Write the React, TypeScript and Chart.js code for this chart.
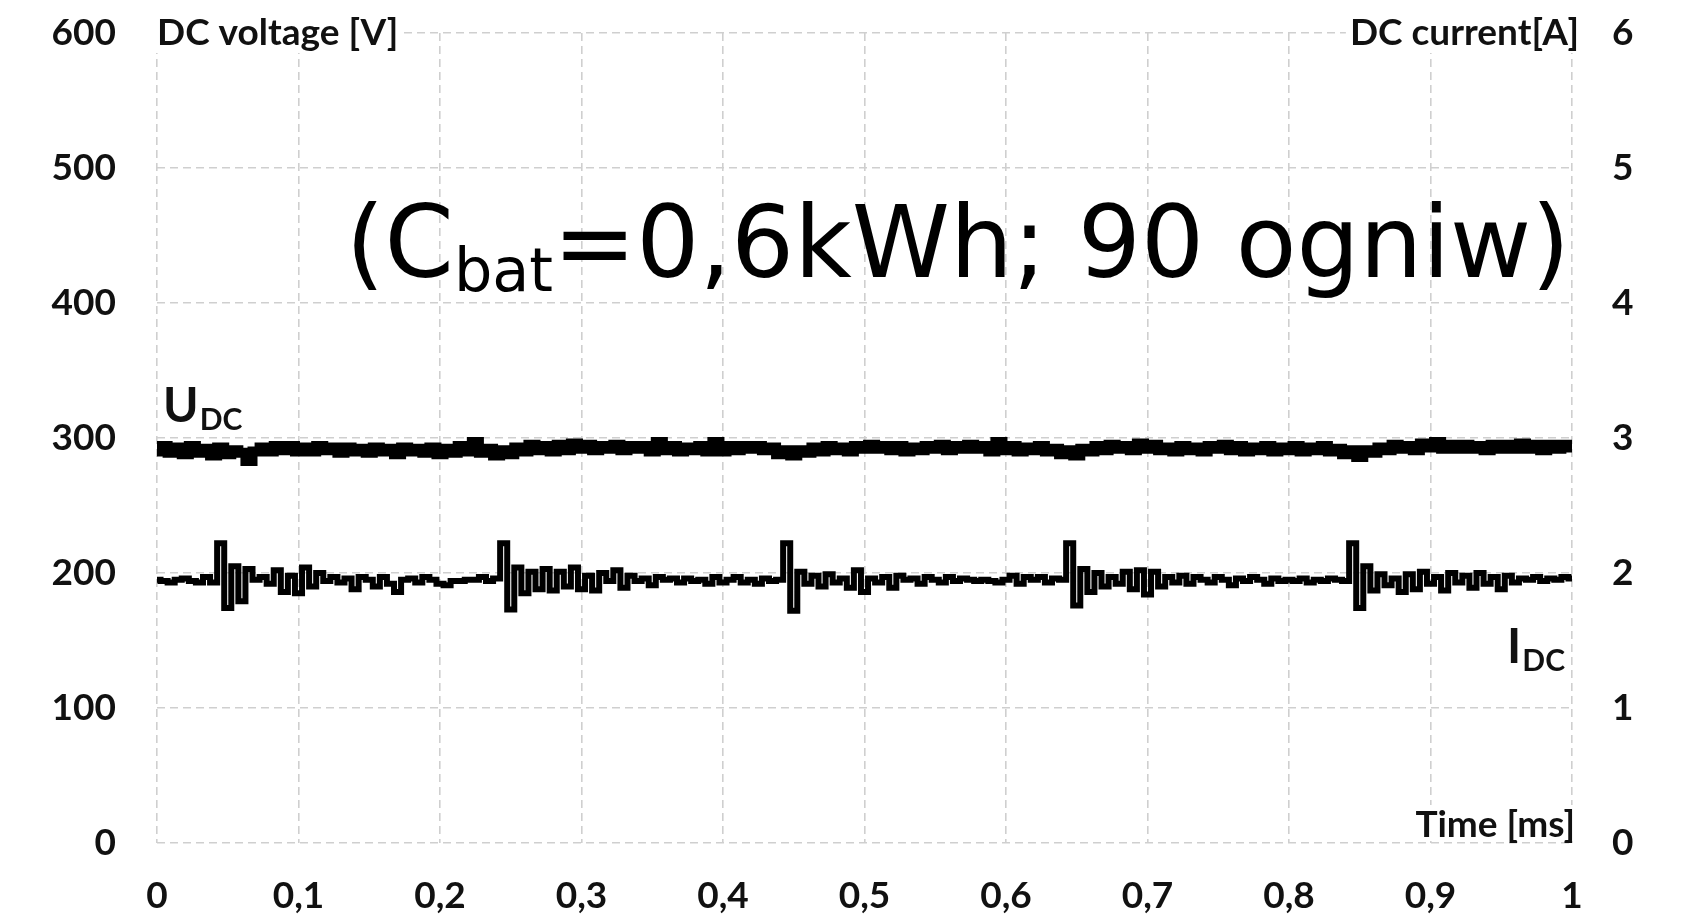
import React, { useEffect, useRef } from "react";
import { Chart, registerables } from "chart.js";

Chart.register(...registerables);

// ---------------- data ----------------
const SAMPLE_STEP_MS = 0.005; // oscilloscope sampling grid used for reading the traces

const voltageDC: number[] = [
  290, 294, 289, 293, 288, 294, 289, 292, 287, 293, 288, 291, 289, 283, 290, 293, 290, 294, 291, 294,
  290, 293, 290, 294, 291, 293, 289, 293, 290, 292, 289, 293, 290, 292, 288, 293, 290, 292, 289, 293,
  288, 292, 289, 294, 290, 297, 289, 292, 287, 291, 288, 293, 290, 295, 291, 294, 290, 295, 291, 296,
  292, 295, 291, 294, 292, 295, 291, 294, 292, 294, 290, 297, 291, 294, 290, 293, 291, 294, 290, 297,
  290, 294, 291, 294, 292, 294, 291, 293, 288, 291, 287, 291, 289, 293, 290, 294, 291, 293, 290, 294,
  292, 295, 292, 294, 291, 294, 290, 293, 291, 294, 292, 295, 291, 294, 292, 295, 292, 294, 290, 297,
  291, 294, 290, 293, 291, 294, 290, 292, 288, 291, 287, 292, 290, 294, 291, 295, 292, 294, 291, 296,
  292, 295, 291, 293, 290, 294, 291, 293, 290, 294, 292, 295, 291, 294, 290, 293, 291, 294, 290, 293,
  291, 294, 290, 293, 291, 294, 290, 292, 288, 291, 286, 291, 289, 293, 291, 295, 292, 294, 291, 296,
  293, 297, 292, 295, 292, 295, 292, 294, 291, 295, 292, 295, 292, 296, 292, 295, 291, 295, 292, 295,
  293,
];

const currentDC: number[] = [
  1.95, 1.94, 1.93, 1.95, 1.96, 1.94, 1.93, 1.97, 1.93, 2.22, 1.74, 2.05, 1.79, 2.03, 1.95, 1.97, 1.92, 2.02, 1.86, 1.98,
  1.85, 2.04, 1.90, 2.00, 1.94, 1.97, 1.93, 1.96, 1.88, 1.97, 1.95, 1.90, 1.97, 1.92, 1.86, 1.95, 1.96, 1.93, 1.97, 1.95,
  1.92, 1.91, 1.94, 1.94, 1.95, 1.95, 1.97, 1.94, 1.96, 2.22, 1.73, 2.04, 1.85, 2.01, 1.88, 2.03, 1.87, 2.01, 1.90, 2.04,
  1.88, 1.98, 1.87, 2.00, 1.94, 2.02, 1.89, 1.98, 1.94, 1.96, 1.91, 1.97, 1.95, 1.96, 1.93, 1.96, 1.94, 1.95, 1.92, 1.97,
  1.93, 1.95, 1.97, 1.93, 1.95, 1.92, 1.96, 1.94, 1.95, 2.22, 1.72, 2.01, 1.92, 1.98, 1.90, 1.99, 1.93, 1.96, 1.89, 2.02,
  1.86, 1.96, 1.93, 1.97, 1.89, 1.98, 1.95, 1.96, 1.92, 1.97, 1.95, 1.93, 1.97, 1.94, 1.96, 1.95, 1.94, 1.95, 1.94, 1.93,
  1.95, 1.98, 1.92, 1.97, 1.95, 1.97, 1.93, 1.96, 1.95, 2.22, 1.76, 2.03, 1.86, 2.00, 1.90, 1.97, 1.92, 2.01, 1.88, 2.02,
  1.84, 2.01, 1.90, 1.97, 1.93, 1.98, 1.92, 1.97, 1.95, 1.93, 1.97, 1.95, 1.91, 1.96, 1.94, 1.97, 1.95, 1.92, 1.96, 1.94,
  1.95, 1.94, 1.96, 1.93, 1.95, 1.94, 1.96, 1.95, 1.94, 2.22, 1.74, 2.05, 1.87, 1.99, 1.91, 1.96, 1.86, 1.99, 1.88, 2.01,
  1.92, 1.97, 1.87, 2.00, 1.93, 1.98, 1.89, 2.00, 1.92, 1.97, 1.88, 1.98, 1.93, 1.96, 1.95, 1.97, 1.94, 1.96, 1.95, 1.97,
  1.96,
];

const xTickLabels = ["0", "0,1", "0,2", "0,3", "0,4", "0,5", "0,6", "0,7", "0,8", "0,9", "1"];
const yLeftTickLabels = ["0", "100", "200", "300", "400", "500", "600"];
const yRightTickLabels = ["0", "1", "2", "3", "4", "5", "6"];

const leftAxisTitle = "DC voltage [V]";
const rightAxisTitle = "DC current[A]";
const xAxisTitle = "Time [ms]";

// ---------------- styles ----------------
const W = 1685;
const H = 919;
const FONT = "Lato, 'Open Sans', sans-serif";
const BIG_FONT = "'DejaVu Sans', Verdana, sans-serif";
const GRID = { color: "#cfcfcf", lineWidth: 1.6, dash: [8, 5] };

const annotationsPlugin = {
  id: "annotations",
  afterDraw(chart: any) {
    const ctx: CanvasRenderingContext2D = chart.ctx;
    const a = chart.chartArea;
    const yL = chart.scales.y;
    const yR = chart.scales.y1;
    ctx.save();

    const boxed = (text: string, x: number, yMid: number, align: "left" | "right", bgBottom?: number) => {
      ctx.font = `bold 37px ${FONT}`;
      const w = ctx.measureText(text).width;
      const x0 = align === "left" ? x : x - w;
      ctx.fillStyle = "#ffffff";
      ctx.fillRect(x0 - 4, yMid - 20, w + 8, (bgBottom ?? yMid + 20) - (yMid - 20));
      ctx.fillStyle = "#111111";
      ctx.textAlign = "left";
      ctx.textBaseline = "middle";
      ctx.fillText(text, x0, yMid);
    };

    boxed(leftAxisTitle, a.left, a.top, "left");
    boxed(rightAxisTitle, a.right + 7, a.top, "right");
    boxed(xAxisTitle, a.right + 3, a.bottom - 18, "right", a.bottom - 2);

    // subscripted labels
    const subLabel = (main: string, sub: string, x: number, base: number, align: "left" | "right") => {
      ctx.textBaseline = "alphabetic";
      ctx.textAlign = "left";
      ctx.font = `bold 48px ${FONT}`;
      const wm = ctx.measureText(main).width;
      ctx.font = `bold 30px ${FONT}`;
      const ws = ctx.measureText(sub).width;
      const x0 = align === "left" ? x : x - wm - ws - 1;
      ctx.fillStyle = "#111111";
      ctx.font = `bold 48px ${FONT}`;
      ctx.fillText(main, x0, base);
      ctx.font = `bold 30px ${FONT}`;
      ctx.fillText(sub, x0 + wm + 1, base + 8);
    };
    subLabel("U", "DC", a.left + 6, yL.getPixelForValue(312), "left");
    subLabel("I", "DC", a.right - 7, yR.getPixelForValue(1.33), "right");

    // big note: (C_bat=0,6kWh; 90 ogniw)
    const bigSize = 99.3;
    const subSize = 60.5;
    const part1 = "(C";
    const part2 = "bat";
    const part3 = "=0,6kWh; 90 ogniw)";
    ctx.font = `${bigSize}px ${BIG_FONT}`;
    const w1 = ctx.measureText(part1).width;
    const w3 = ctx.measureText(part3).width;
    ctx.font = `${subSize}px ${BIG_FONT}`;
    const w2 = ctx.measureText(part2).width;
    const total = w1 + w2 + w3;
    const base = yL.getPixelForValue(419);
    let x = a.right - 2 - total;
    ctx.fillStyle = "#000000";
    ctx.textBaseline = "alphabetic";
    ctx.textAlign = "left";
    ctx.font = `${bigSize}px ${BIG_FONT}`;
    ctx.fillText(part1, x, base);
    x += w1;
    ctx.font = `${subSize}px ${BIG_FONT}`;
    ctx.fillText(part2, x, base + 14);
    x += w2;
    ctx.font = `${bigSize}px ${BIG_FONT}`;
    ctx.fillText(part3, x, base);

    ctx.restore();
  },
};

export default function App() {
  const ref = useRef<HTMLCanvasElement | null>(null);

  useEffect(() => {
    if (!ref.current) return;
    const uData = voltageDC.map((v, i) => ({ x: i * SAMPLE_STEP_MS, y: v }));
    const iData = currentDC.map((v, i) => ({ x: i * SAMPLE_STEP_MS, y: v }));

    const tickFont = { family: FONT, size: 37, weight: "bold" as const };

    const chart = new Chart(ref.current, {
      type: "line",
      data: {
        datasets: [
          {
            label: "U_DC",
            data: uData,
            yAxisID: "y",
            borderColor: "#000000",
            borderWidth: 10,
            pointRadius: 0,
            stepped: "middle",
            borderJoinStyle: "miter",
            borderCapStyle: "butt",
          },
          {
            label: "I_DC",
            data: iData,
            yAxisID: "y1",
            borderColor: "#000000",
            borderWidth: 6,
            pointRadius: 0,
            stepped: "middle",
            borderJoinStyle: "miter",
            borderCapStyle: "butt",
          },
        ],
      },
      options: {
        animation: false,
        responsive: false,
        devicePixelRatio: 1,
        layout: { padding: { top: 33, left: 0, right: 0, bottom: 0 } },
        plugins: { legend: { display: false }, tooltip: { enabled: false } },
        scales: {
          x: {
            type: "linear",
            min: 0,
            max: 1,
            afterFit: (s: any) => {
              s.height = H - 843;
              s.paddingLeft = 0;
              s.paddingRight = 0;
            },
            afterBuildTicks: (s: any) => {
              s.ticks = xTickLabels.map((_, i) => ({ value: i / 10 }));
            },
            ticks: {
              autoSkip: false,
              maxRotation: 0,
              padding: 31,
              color: "#111111",
              font: tickFont,
              callback: (_v: any, i: number) => xTickLabels[i],
            },
            grid: {
              color: GRID.color,
              lineWidth: GRID.lineWidth,
              drawTicks: false,
            },
            border: { display: false, dash: GRID.dash },
          },
          y: {
            type: "linear",
            position: "left",
            min: 0,
            max: 600,
            afterFit: (s: any) => {
              s.width = 157;
              s.paddingTop = 0;
              s.paddingBottom = 0;
            },
            afterBuildTicks: (s: any) => {
              s.ticks = yLeftTickLabels.map((_, i) => ({ value: i * 100 }));
            },
            ticks: {
              padding: 41,
              color: "#111111",
              font: tickFont,
              callback: (_v: any, i: number) => yLeftTickLabels[i],
            },
            grid: {
              color: GRID.color,
              lineWidth: GRID.lineWidth,
              drawTicks: false,
            },
            border: { display: false, dash: GRID.dash },
          },
          y1: {
            type: "linear",
            position: "right",
            min: 0,
            max: 6,
            afterFit: (s: any) => {
              s.width = W - 1572;
              s.paddingTop = 0;
              s.paddingBottom = 0;
            },
            afterBuildTicks: (s: any) => {
              s.ticks = yRightTickLabels.map((_, i) => ({ value: i }));
            },
            ticks: {
              padding: 40,
              color: "#111111",
              font: tickFont,
              callback: (_v: any, i: number) => yRightTickLabels[i],
            },
            grid: { display: false, drawTicks: false },
            border: { display: false },
          },
        },
      },
      plugins: [annotationsPlugin],
    });

    return () => chart.destroy();
  }, []);

  return (
    <div style={{ position: "fixed", left: 0, top: 0, width: W, height: H, background: "#ffffff" }}>
      <canvas ref={ref} width={W} height={H} style={{ width: W, height: H, display: "block" }} />
    </div>
  );
}
